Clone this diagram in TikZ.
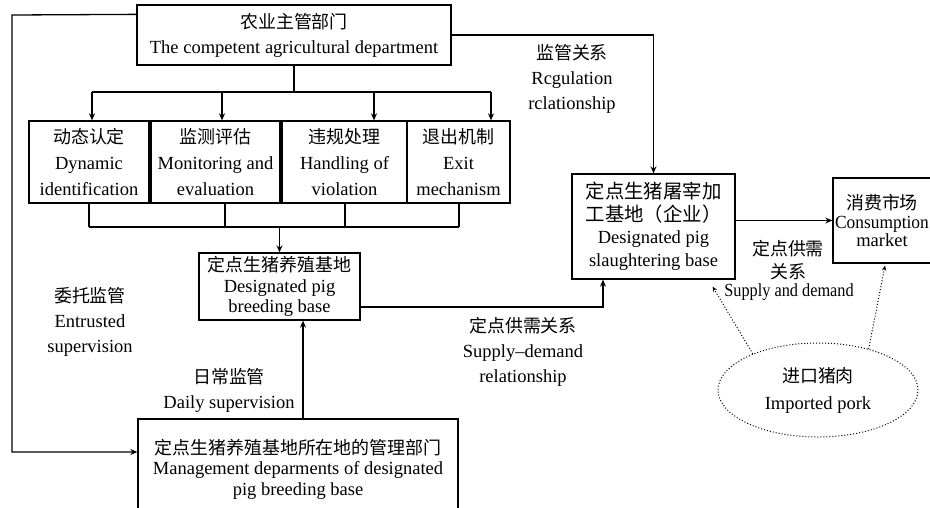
\documentclass[tikz,border=0pt]{standalone}
\usepackage{fontspec}
\usepackage{graphicx}
\setmainfont{Liberation Serif}
\newfontfamily\cjk{Noto Sans CJK SC}[Scale=0.97]
\usetikzlibrary{arrows.meta,shapes.geometric}
\begin{document}
\begin{tikzpicture}[x=1pt,y=-1pt,
  every node/.style={inner sep=0pt, align=center, font=\fontsize{18.5}{25}\selectfont},
  box/.style={draw, line width=1.3pt},
  ln/.style={line width=1.3pt},
  arr/.style={line width=1.3pt, -{Stealth[length=7pt,width=6pt]}},
  dotarr/.style={line width=1pt, dotted, -{Stealth[length=5pt,width=4.5pt]}},
]
\useasboundingbox (0,0) rectangle (930,507);
\clip (0,0) rectangle (930,507);

% boxes
\node[box, minimum width=314pt, minimum height=60pt] (top) at (294,35)
  {{\cjk 农业主管部门}\\The competent agricultural department};
\node[box, minimum width=120pt, minimum height=82pt, font=\fontsize{18.5}{26}\selectfont] (b1) at (89,162)
  {{\cjk 动态认定}\\Dynamic\\identification};
\node[box, minimum width=129pt, minimum height=82pt, font=\fontsize{18.5}{26}\selectfont] (b2) at (215.5,162)
  {{\cjk 监测评估}\\Monitoring and\\evaluation};
\node[box, minimum width=125pt, minimum height=82pt, font=\fontsize{18.5}{26}\selectfont] (b3) at (344.5,162)
  {{\cjk 违规处理}\\Handling of\\violation};
\node[box, minimum width=103pt, minimum height=82pt, font=\fontsize{18.5}{26}\selectfont] (b4) at (458.5,162)
  {{\cjk 退出机制}\\Exit\\mechanism};
\node[box, minimum width=161pt, minimum height=67pt, font=\fontsize{18.5}{20.5}\selectfont] (breed) at (279.5,286.5)
  {{\cjk 定点生猪养殖基地}\\Designated pig\\breeding base};
\node[box, minimum width=163pt, minimum height=105pt, font=\fontsize{18.5}{22.5}\selectfont] (sl) at (653.5,226.5)
  {{\cjk\fontsize{20}{22.5}\selectfont 定点生猪屠宰加}\\{\cjk\fontsize{20}{22.5}\selectfont 工基地（企业）}\\Designated pig\\slaughtering base};
\node[box, minimum width=98pt, minimum height=85pt, font=\fontsize{18.5}{18.5}\selectfont] (cons) at (882,220.5)
  {{\cjk 消费市场}\\\scalebox{0.94}[1]{Consumption}\\market};
\node[box, minimum width=320pt, minimum height=100pt, font=\fontsize{18.5}{20.5}\selectfont] (mgmt) at (298,469)
  {{\cjk 定点生猪养殖基地所在地的管理部门}\\Management deparments of designated\\pig breeding base};
\node[ellipse, draw, dotted, line width=1pt, minimum width=200pt, minimum height=94pt, font=\fontsize{18.5}{27}\selectfont] (imp) at (818,390)
  {{\cjk 进口猪肉}\\Imported pork};

% labels
\node (reg) at (572,79) {{\cjk 监管关系}\\Rcgulation\\rclationship};
\node (ent) at (90,322) {{\cjk 委托监管}\\Entrusted\\supervision};
\node (daily) at (229,390) {{\cjk 日常监管}\\Daily supervision};
\node (sdl) at (523,352) {{\cjk 定点供需关系}\\Supply--demand\\relationship};
\node[font=\fontsize{18.5}{23}\selectfont] (sd2) at (788,260) {{\cjk 定点供需}\\{\cjk 关系}};
\node (sd3) at (789,292) {\scalebox{0.88}[1]{Supply and demand}};

% connectors
\draw[arr] ([yshift=-10pt]top.north west) -- (12,15) |- ([yshift=17pt]mgmt.west);
\draw[arr] (top.east) -| (sl.north);

\coordinate (br) at (294,92);
\coordinate (a1) at (92,92);
\coordinate (a2) at (222,92);
\coordinate (a3) at (374,92);
\coordinate (a4) at (491,92);
\draw[ln] (top.south) -- (br);
\draw[ln] (a1) -- (a4);
\draw[arr] (a1) -- (a1 |- b1.north);
\draw[arr] (a2) -- (a2 |- b2.north);
\draw[arr] (a3) -- (a3 |- b3.north);
\draw[arr] (a4) -- (a4 |- b4.north);

\coordinate (c1) at (89,227);
\coordinate (c2) at (225,227);
\coordinate (c3) at (345,227);
\coordinate (c4) at (459,227);
\draw[ln] (c1 |- b1.south) -- (c1);
\draw[ln] (c2 |- b2.south) -- (c2);
\draw[ln] (c3 |- b3.south) -- (c3);
\draw[ln] (c4 |- b4.south) -- (c4);
\draw[ln] (c1) -- (c4);
\draw[arr] (breed.north |- c1) -- (breed.north);

\coordinate (d1) at ([xshift=5pt]mgmt.north);
\draw[arr] (d1) -- (d1 |- breed.south);

\draw[arr] ([yshift=-20.5pt]breed.east) -| ([xshift=-50.5pt]sl.south);
\draw[arr] (sl.east |- cons.west) -- (cons.west);

\draw[dotarr] (imp.151) -- ([xshift=-23pt,yshift=-7pt]sl.south east);
\draw[dotarr] (imp.39) -- ([xshift=3pt,yshift=-2pt]cons.south);
\end{tikzpicture}
\end{document}
